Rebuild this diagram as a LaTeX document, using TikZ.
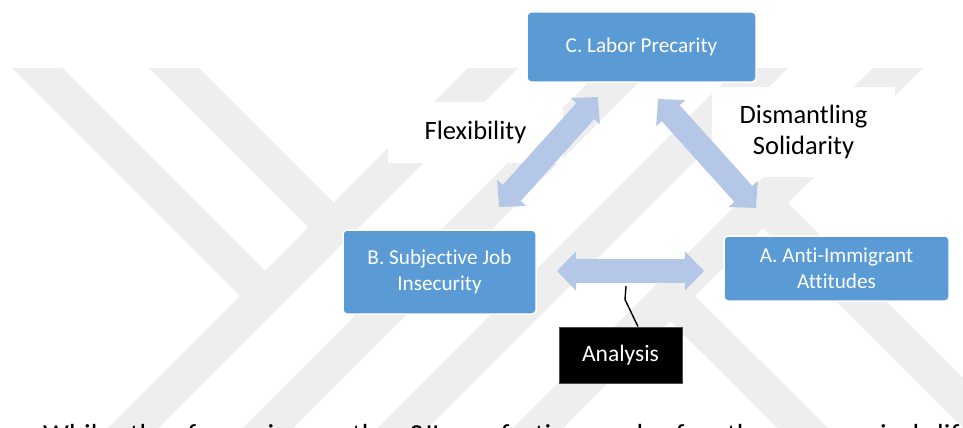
\documentclass[tikz,border=0pt]{standalone}
\usepackage{fontspec}
\setmainfont{Carlito}[Ligatures=NoCommon]
\usetikzlibrary{arrows.meta}

\definecolor{boxblue}{RGB}{91,155,213}
\definecolor{arrowblue}{RGB}{180,199,231}
\definecolor{wmgray}{RGB}{238,238,238}

\tikzset{
  concept/.style={rectangle, rounded corners=4pt, fill=boxblue, draw=white,
    line width=1.5pt, text=white, align=center, inner sep=0pt,
    font=\fontsize{21.2}{25.5}\selectfont},
  tag/.style={rectangle, fill=white, inner sep=0pt, align=center,
    font=\fontsize{26.5}{31.5}\selectfont},
  darktag/.style={rectangle, fill=black, draw=black!70, line width=0.8pt,
    text=white, inner sep=0pt, font=\fontsize{23.5}{28}\selectfont},
  fatarrow/.style={arrowblue, line width=24pt,
    {Triangle[length=19pt,width=38pt]}-{Triangle[length=19pt,width=38pt]}},
  band/.style={wmgray, line width=35.4pt},
  callout/.style={black, line width=1.4pt}
}

\begin{document}
\begin{tikzpicture}[x=1pt,y=-1pt]
\useasboundingbox[fill=white] (0,0) rectangle (963,428);

% background emblem made of diagonal bands
\begin{scope}
  \clip (0,68) rectangle (963,428);
  \draw[band] (7,38) -- (265,296);
  \draw[band] (144,38) -- (334,228);
  \draw[band] (101,460) -- (523,38);
  \draw[band] (236,460) -- (658,38);
  \draw[band] (371,460) -- (793,38);
  \draw[band] (506,460) -- (928,38);
  \draw[band] (670,296) -- (835,460);
  \draw[band] (763,203) -- (1023,463);
\end{scope}

% relation labels
\node[tag, minimum width=175pt, minimum height=61pt] (flex) at (475.5,132.5) {Flexibility};
\node[tag, minimum width=183pt, minimum height=90pt] (dism) at (803.5,132) {Dismantling\\Solidarity};

% concept boxes
\node[concept, minimum width=229pt, minimum height=70pt] (C) at (641.5,47) {C. Labor Precarity};
\node[concept, minimum width=193pt, minimum height=84pt] (B) at (439.5,272) {B. Subjective Job\\Insecurity};
\node[concept, minimum width=225pt, minimum height=65pt] (A) at (836.5,268.5) {A. Anti-Immigrant\\Attitudes};
\node[darktag, minimum width=123pt, minimum height=56pt] (an) at (620.5,355) {Analysis};

% arrow end points
\coordinate (flexB) at (499,207);
\coordinate (flexC) at (598,97);
\coordinate (dismC) at (658,99);
\coordinate (dismA) at (756,208);
\coordinate (anaB) at (557,271);
\coordinate (anaA) at (704,271);
\coordinate (hook) at (626,286);

\draw[fatarrow] (flexB) -- (flexC);
\draw[fatarrow] (dismC) -- (dismA);
\draw[fatarrow] (anaB) -- (anaA);

\draw[callout] ([xshift=17.5pt]an.north) -- ++(-13,-27) -- (hook);

% running text below the figure
\begin{scope}
  \clip (0,0) rectangle (963,428);
  \node[anchor=base west, inner sep=0pt, font=\fontsize{29}{35}\selectfont] (body) at (43,444)
    {\spaceskip=18pt While the focus is on the SJI as factions rule for the economical life};
\end{scope}
\end{tikzpicture}
\end{document}
